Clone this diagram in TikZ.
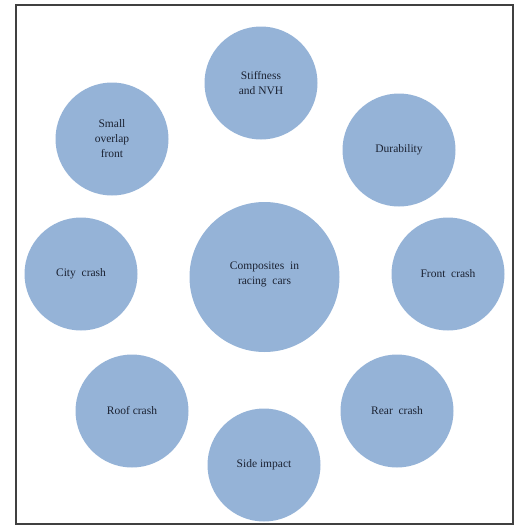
\documentclass[tikz,border=0pt]{standalone}
\usepackage{fontspec}
\setmainfont{Liberation Serif}
\definecolor{bubble}{HTML}{95B3D7}
\definecolor{txt}{HTML}{1C2333}
\begin{document}
\begin{tikzpicture}[x=1pt,y=-1pt,
  topic/.style={circle,fill=bubble,minimum size=113pt,inner sep=0pt,align=center,
    text=txt,font=\fontsize{11.5}{15}\selectfont},
  hub/.style={ellipse,fill=bubble,minimum width=152pt,minimum height=146pt,inner sep=0pt,align=center,
    text=txt,font=\fontsize{11.5}{15}\selectfont}]
\useasboundingbox (0,0) rectangle (520,528);
\draw[line width=1.3pt,draw=black!75] (16,5) rectangle (513,524);
\path (264.5,277) node[circle,fill=bubble,minimum width=150pt,inner sep=0pt] (hubshape) {};
\node[align=center,text=txt,font=\fontsize{11.5}{15}\selectfont] (hub) at (264.5,274) {Composites\ \ in\\racing\ \ cars};
\node[topic] (stiff) at (261,83) {Stiffness\\and NVH};
\node[topic] (dur) at (399,150) {Durability};
\node[topic] (front) at (448,274) {Front\ \ crash};
\node[topic] (rear) at (397,411) {Rear\ \ crash};
\node[topic] (side) at (264,465) {Side impact};
\node[topic] (roof) at (132,411) {Roof crash};
\node[topic] (city) at (81,274) {City\ \ crash};
\node[topic] (small) at (112,139) {Small\\overlap\\front};
\end{tikzpicture}
\end{document}
